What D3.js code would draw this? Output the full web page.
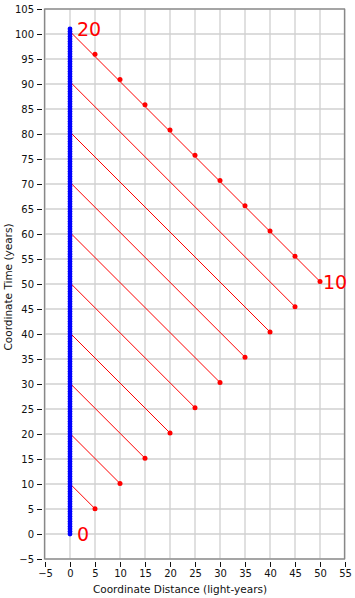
<!DOCTYPE html>
<html>
<head>
<meta charset="utf-8">
<script src="https://cdn.jsdelivr.net/npm/d3@7"></script>
<style>
  body { margin: 0; background: #fff; }
  text { font-family: "DejaVu Sans", sans-serif; }
</style>
</head>
<body>
<svg id="chart" width="355" height="598"></svg>
<script>
// tick labels
let xTicks = [-5, 0, 5, 10, 15, 20, 25, 30, 35, 40, 45, 50, 55];
let yTicks = [-5, 0, 5, 10, 15, 20, 25, 30, 35, 40, 45, 50, 55, 60, 65, 70, 75, 80, 85, 90, 95, 100, 105];

// traveller going out (red dots)
let outX = [5, 10, 15, 20, 25, 30, 35, 40, 45, 50];
let outT = [5.05, 10.1, 15.15, 20.2, 25.25, 30.3, 35.35, 40.4, 45.45, 50.5];

// traveller coming back (red dots just above the last signal line)
let backX = [45, 40, 35, 30, 25, 20, 15, 10, 5];
let backT = [55.56, 60.61, 65.66, 70.71, 75.76, 80.81, 85.86, 90.91, 95.96];

// signals sent back home, arriving at x = 0
let arriveT = [10.05, 20.1, 30.15, 40.2, 50.25, 60.3, 70.35, 80.4, 90.45, 100.5];

// stay-at-home clock ticks (blue)
let homeT = [0, 0.5, 1, 1.5, 2, 2.5, 3, 3.5, 4, 4.5, 5, 5.5, 6, 6.5, 7, 7.5, 8, 8.5, 9, 9.5,
  10, 10.5, 11, 11.5, 12, 12.5, 13, 13.5, 14, 14.5, 15, 15.5, 16, 16.5, 17, 17.5, 18, 18.5, 19, 19.5,
  20, 20.5, 21, 21.5, 22, 22.5, 23, 23.5, 24, 24.5, 25, 25.5, 26, 26.5, 27, 27.5, 28, 28.5, 29, 29.5,
  30, 30.5, 31, 31.5, 32, 32.5, 33, 33.5, 34, 34.5, 35, 35.5, 36, 36.5, 37, 37.5, 38, 38.5, 39, 39.5,
  40, 40.5, 41, 41.5, 42, 42.5, 43, 43.5, 44, 44.5, 45, 45.5, 46, 46.5, 47, 47.5, 48, 48.5, 49, 49.5,
  50, 50.5, 51, 51.5, 52, 52.5, 53, 53.5, 54, 54.5, 55, 55.5, 56, 56.5, 57, 57.5, 58, 58.5, 59, 59.5,
  60, 60.5, 61, 61.5, 62, 62.5, 63, 63.5, 64, 64.5, 65, 65.5, 66, 66.5, 67, 67.5, 68, 68.5, 69, 69.5,
  70, 70.5, 71, 71.5, 72, 72.5, 73, 73.5, 74, 74.5, 75, 75.5, 76, 76.5, 77, 77.5, 78, 78.5, 79, 79.5,
  80, 80.5, 81, 81.5, 82, 82.5, 83, 83.5, 84, 84.5, 85, 85.5, 86, 86.5, 87, 87.5, 88, 88.5, 89, 89.5,
  90, 90.5, 91, 91.5, 92, 92.5, 93, 93.5, 94, 94.5, 95, 95.5, 96, 96.5, 97, 97.5, 98, 98.5, 99, 99.5,
  100, 100.5, 101];

// clock labels
let labelText = ["0", "10", "20"];
let labelX = [0, 50, 0];
let labelT = [0, 50.5, 101];

let svg = d3.select("#chart");

let x = d3.scaleLinear().domain([-5, 55]).range([45, 345]);
let y = d3.scaleLinear().domain([-5, 105]).range([559, 9]);

// grid
svg.append("g").selectAll("line").data(xTicks).join("line")
  .attr("x1", d => x(d)).attr("x2", d => x(d))
  .attr("y1", y(-5)).attr("y2", y(105))
  .attr("stroke", "#d0d0d0").attr("stroke-width", 1.3);
svg.append("g").selectAll("line").data(yTicks).join("line")
  .attr("x1", x(-5)).attr("x2", x(55))
  .attr("y1", d => y(d)).attr("y2", d => y(d))
  .attr("stroke", "#d0d0d0").attr("stroke-width", 1.3);

// frame
svg.append("rect")
  .attr("x", x(-5) - 0.5).attr("y", y(105))
  .attr("width", x(55) - x(-5)).attr("height", y(-5) - y(105))
  .attr("fill", "none").attr("stroke", "#888").attr("stroke-width", 1.3);

// axes
let yAxis = svg.append("g").attr("transform", "translate(42,0)")
  .call(d3.axisLeft(y).tickValues(yTicks).tickSize(5).tickPadding(3));
let xAxis = svg.append("g").attr("transform", "translate(0,562)")
  .call(d3.axisBottom(x).tickValues(xTicks).tickSize(5).tickPadding(3));
[xAxis, yAxis].forEach(function(a) {
  a.select(".domain").remove();
  a.selectAll("text").attr("font-family", "DejaVu Sans").attr("font-size", 10).attr("fill", "#111");
  a.selectAll("line").attr("stroke", "#111");
});

svg.append("text")
  .attr("x", 180).attr("y", 593)
  .attr("text-anchor", "middle").attr("font-size", 10.5).attr("fill", "#111")
  .attr("font-family", "Liberation Sans")
  .text("Coordinate Distance (light-years)");
svg.append("text")
  .attr("transform", "translate(12,287) rotate(-90)")
  .attr("text-anchor", "middle").attr("font-size", 10.5).attr("fill", "#111")
  .attr("font-family", "Liberation Sans")
  .text("Coordinate Time (years)");

// signal lines
svg.append("g").selectAll("line").data(outX).join("line")
  .attr("x1", d => x(d)).attr("y1", (d, i) => y(outT[i]))
  .attr("x2", x(0)).attr("y2", (d, i) => y(arriveT[i]))
  .attr("stroke", "red").attr("stroke-width", 1);

// home clock
svg.append("g").selectAll("circle").data(homeT).join("circle")
  .attr("cx", x(0)).attr("cy", d => y(d)).attr("r", 2.4)
  .attr("fill", "#0000ff");

// traveller dots
svg.append("g").selectAll("circle").data(outX).join("circle")
  .attr("cx", d => x(d)).attr("cy", (d, i) => y(outT[i])).attr("r", 2.5)
  .attr("fill", "red");
svg.append("g").selectAll("circle").data(backX).join("circle")
  .attr("cx", d => x(d)).attr("cy", (d, i) => y(backT[i])).attr("r", 2.5)
  .attr("fill", "red");

// labels
svg.append("g").selectAll("text").data(labelText).join("text")
  .attr("x", (d, i) => x(labelX[i]) + (i == 1 ? 3 : 7))
  .attr("y", (d, i) => y(labelT[i]) + 7)
  .attr("font-size", 19).attr("fill", "red")
  .text(d => d);
</script>
</body>
</html>
